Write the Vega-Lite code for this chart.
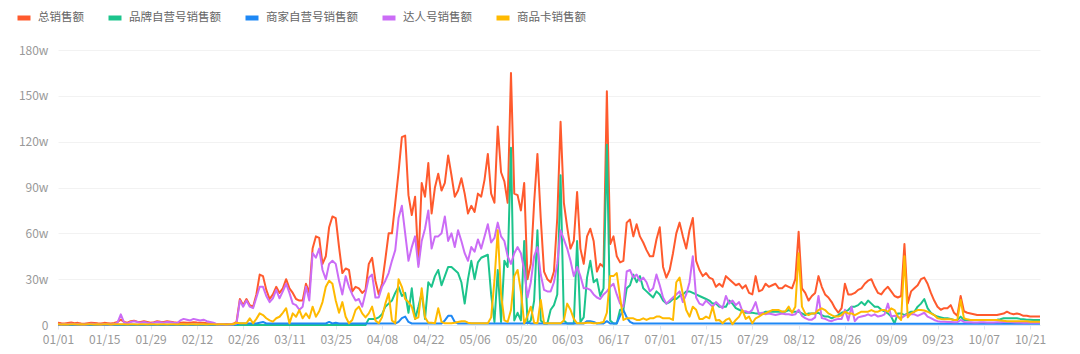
{
"$schema": "https://vega.github.io/schema/vega-lite/v6.json",
"width": 982,
"height": 275,
"autosize": {"type": "none"},
"padding": {"left": 58, "top": 50, "right": 40, "bottom": 29},
"background": "white",
"config": {"font": "Noto Sans CJK SC", "view": {"stroke": null}},
"data": {"values": [
{"d":"2024-01-01","a":1.5,"b":0,"c":0.2,"e":0.5,"f":0.5},
{"d":"2024-01-02","a":1.2,"b":0,"c":0.2,"e":0.4,"f":0.4},
{"d":"2024-01-03","a":1.0,"b":0,"c":0.2,"e":0.6,"f":0.5},
{"d":"2024-01-04","a":1.3,"b":0,"c":0.2,"e":0.5,"f":0.4},
{"d":"2024-01-05","a":1.6,"b":0,"c":0.2,"e":0.8,"f":0.5},
{"d":"2024-01-06","a":1.2,"b":0,"c":0.2,"e":0.5,"f":0.5},
{"d":"2024-01-07","a":1.4,"b":0,"c":0.2,"e":0.6,"f":0.4},
{"d":"2024-01-08","a":1.0,"b":0,"c":0.2,"e":0.4,"f":0.5},
{"d":"2024-01-09","a":0.8,"b":0,"c":0.2,"e":0.3,"f":0.4},
{"d":"2024-01-10","a":1.2,"b":0,"c":0.2,"e":0.5,"f":0.5},
{"d":"2024-01-11","a":1.5,"b":0,"c":0.2,"e":0.8,"f":0.5},
{"d":"2024-01-12","a":1.3,"b":0,"c":0.2,"e":0.6,"f":0.4},
{"d":"2024-01-13","a":1.1,"b":0,"c":0.2,"e":0.5,"f":0.5},
{"d":"2024-01-14","a":1.0,"b":0,"c":0.2,"e":0.4,"f":0.4},
{"d":"2024-01-15","a":1.4,"b":0,"c":0.2,"e":0.6,"f":0.5},
{"d":"2024-01-16","a":1.2,"b":0,"c":0.2,"e":0.5,"f":0.5},
{"d":"2024-01-17","a":1.0,"b":0,"c":0.2,"e":0.4,"f":0.4},
{"d":"2024-01-18","a":1.3,"b":0,"c":0.2,"e":0.6,"f":0.5},
{"d":"2024-01-19","a":2.0,"b":0,"c":0.2,"e":1.5,"f":0.5},
{"d":"2024-01-20","a":3.5,"b":0,"c":0.2,"e":7.0,"f":0.5},
{"d":"2024-01-21","a":2.0,"b":0,"c":0.2,"e":1.5,"f":0.5},
{"d":"2024-01-22","a":1.5,"b":0,"c":0.2,"e":1.0,"f":0.4},
{"d":"2024-01-23","a":2.5,"b":0,"c":0.2,"e":2.0,"f":0.5},
{"d":"2024-01-24","a":2.8,"b":0,"c":0.2,"e":2.5,"f":0.5},
{"d":"2024-01-25","a":2.2,"b":0,"c":0.2,"e":2.0,"f":0.4},
{"d":"2024-01-26","a":2.0,"b":0,"c":0.2,"e":1.5,"f":0.5},
{"d":"2024-01-27","a":2.5,"b":0,"c":0.2,"e":2.0,"f":0.5},
{"d":"2024-01-28","a":2.0,"b":0,"c":0.2,"e":1.5,"f":0.4},
{"d":"2024-01-29","a":1.5,"b":0,"c":0.2,"e":1.0,"f":0.5},
{"d":"2024-01-30","a":1.8,"b":0,"c":0.2,"e":1.5,"f":0.5},
{"d":"2024-01-31","a":2.5,"b":0,"c":0.2,"e":2.0,"f":0.4},
{"d":"2024-02-01","a":2.2,"b":0,"c":0.2,"e":1.8,"f":0.5},
{"d":"2024-02-02","a":2.0,"b":0,"c":0.2,"e":1.5,"f":0.5},
{"d":"2024-02-03","a":2.5,"b":0,"c":0.2,"e":2.0,"f":0.4},
{"d":"2024-02-04","a":2.2,"b":0,"c":0.2,"e":1.8,"f":0.5},
{"d":"2024-02-05","a":1.8,"b":0,"c":0.2,"e":1.5,"f":0.5},
{"d":"2024-02-06","a":1.5,"b":0,"c":0.2,"e":1.2,"f":0.4},
{"d":"2024-02-07","a":1.5,"b":0,"c":0.2,"e":3.0,"f":0.5},
{"d":"2024-02-08","a":1.6,"b":0,"c":0.2,"e":4.0,"f":0.5},
{"d":"2024-02-09","a":1.4,"b":0,"c":0.2,"e":3.5,"f":0.4},
{"d":"2024-02-10","a":1.5,"b":0,"c":0.2,"e":3.0,"f":0.5},
{"d":"2024-02-11","a":1.8,"b":0,"c":0.2,"e":4.0,"f":0.5},
{"d":"2024-02-12","a":1.6,"b":0,"c":0.2,"e":3.5,"f":0.4},
{"d":"2024-02-13","a":1.5,"b":0,"c":0.2,"e":3.0,"f":0.5},
{"d":"2024-02-14","a":1.4,"b":0,"c":0.2,"e":3.5,"f":0.5},
{"d":"2024-02-15","a":1.2,"b":0,"c":0.2,"e":2.5,"f":0.4},
{"d":"2024-02-16","a":1.0,"b":0,"c":0.2,"e":2.0,"f":0.5},
{"d":"2024-02-17","a":0.8,"b":0,"c":0.2,"e":1.5,"f":0.5},
{"d":"2024-02-18","a":0.6,"b":0,"c":0.2,"e":0.5,"f":0.4},
{"d":"2024-02-19","a":0.5,"b":0,"c":0.2,"e":0.3,"f":0.5},
{"d":"2024-02-20","a":0.5,"b":0,"c":0.2,"e":0.3,"f":0.5},
{"d":"2024-02-21","a":0.6,"b":0,"c":0.2,"e":0.4,"f":0.4},
{"d":"2024-02-22","a":0.5,"b":0,"c":0.2,"e":0.3,"f":0.5},
{"d":"2024-02-23","a":0.8,"b":0,"c":0.2,"e":0.5,"f":0.5},
{"d":"2024-02-24","a":2.0,"b":0,"c":0.5,"e":1.0,"f":1.5},
{"d":"2024-02-25","a":17,"b":0,"c":1,"e":16,"f":1.1},
{"d":"2024-02-26","a":13,"b":0,"c":1,"e":12,"f":1.1},
{"d":"2024-02-27","a":17,"b":0,"c":1,"e":16,"f":1.1},
{"d":"2024-02-28","a":13,"b":0,"c":1,"e":12,"f":4.4},
{"d":"2024-02-29","a":12,"b":0,"c":1,"e":11,"f":1.1},
{"d":"2024-03-01","a":20,"b":0,"c":1,"e":18,"f":4},
{"d":"2024-03-02","a":33,"b":0,"c":1.5,"e":25,"f":7.6},
{"d":"2024-03-03","a":32,"b":0,"c":2,"e":25,"f":6.5},
{"d":"2024-03-04","a":23,"b":0,"c":1,"e":19,"f":4.4},
{"d":"2024-03-05","a":17,"b":0,"c":1,"e":15,"f":3},
{"d":"2024-03-06","a":20,"b":0,"c":1,"e":17.5,"f":2.2},
{"d":"2024-03-07","a":25,"b":0,"c":1,"e":23,"f":4.4},
{"d":"2024-03-08","a":21,"b":0,"c":1,"e":17.5,"f":5.4},
{"d":"2024-03-09","a":24,"b":0,"c":1,"e":22,"f":8},
{"d":"2024-03-10","a":30,"b":0,"c":1,"e":27,"f":11},
{"d":"2024-03-11","a":24,"b":0,"c":1,"e":21,"f":1.1},
{"d":"2024-03-12","a":21,"b":0,"c":1,"e":14,"f":7.6},
{"d":"2024-03-13","a":17,"b":0,"c":1,"e":13,"f":5.4},
{"d":"2024-03-14","a":16,"b":0,"c":1,"e":10,"f":9.8},
{"d":"2024-03-15","a":16,"b":0,"c":1,"e":12,"f":4.4},
{"d":"2024-03-16","a":27,"b":0,"c":1,"e":25,"f":7.6},
{"d":"2024-03-17","a":21,"b":0,"c":1,"e":16,"f":4.4},
{"d":"2024-03-18","a":50,"b":0,"c":1,"e":47,"f":12},
{"d":"2024-03-19","a":58,"b":0,"c":1,"e":44,"f":5.4},
{"d":"2024-03-20","a":57,"b":0,"c":1,"e":50,"f":9},
{"d":"2024-03-21","a":40,"b":0,"c":1,"e":36,"f":15},
{"d":"2024-03-22","a":45,"b":0,"c":1,"e":30,"f":25},
{"d":"2024-03-23","a":64,"b":0,"c":2,"e":40,"f":29},
{"d":"2024-03-24","a":71,"b":0,"c":1,"e":42,"f":27},
{"d":"2024-03-25","a":70,"b":0,"c":1.5,"e":40,"f":16},
{"d":"2024-03-26","a":51,"b":0,"c":1,"e":29,"f":8},
{"d":"2024-03-27","a":34,"b":0,"c":1,"e":20,"f":15},
{"d":"2024-03-28","a":37,"b":0,"c":1,"e":32,"f":5.4},
{"d":"2024-03-29","a":36,"b":0,"c":1,"e":25,"f":1.1},
{"d":"2024-03-30","a":22,"b":0,"c":1,"e":20,"f":3.3},
{"d":"2024-03-31","a":25,"b":0,"c":1,"e":16,"f":9.8},
{"d":"2024-04-01","a":24,"b":0,"c":1,"e":17,"f":12},
{"d":"2024-04-02","a":21,"b":0,"c":1,"e":12,"f":7.6},
{"d":"2024-04-03","a":23,"b":0,"c":1,"e":21,"f":5},
{"d":"2024-04-04","a":40,"b":4,"c":1,"e":31,"f":7.6},
{"d":"2024-04-05","a":44,"b":4,"c":1,"e":33,"f":12},
{"d":"2024-04-06","a":29,"b":4,"c":1,"e":18,"f":3},
{"d":"2024-04-07","a":20,"b":5,"c":1,"e":18,"f":1.1},
{"d":"2024-04-08","a":27,"b":7,"c":1,"e":25,"f":5},
{"d":"2024-04-09","a":43,"b":12,"c":1,"e":29,"f":14},
{"d":"2024-04-10","a":60,"b":14,"c":1,"e":34,"f":20.7},
{"d":"2024-04-11","a":60,"b":16,"c":1,"e":42,"f":3},
{"d":"2024-04-12","a":80,"b":21,"c":1,"e":49,"f":1.1},
{"d":"2024-04-13","a":100,"b":25,"c":2,"e":70,"f":30},
{"d":"2024-04-14","a":123,"b":19,"c":4.5,"e":78,"f":25},
{"d":"2024-04-15","a":124,"b":21,"c":5.5,"e":60,"f":17},
{"d":"2024-04-16","a":85,"b":8,"c":2,"e":42,"f":15},
{"d":"2024-04-17","a":72,"b":24,"c":1,"e":51,"f":12},
{"d":"2024-04-18","a":84,"b":4,"c":1,"e":58,"f":4},
{"d":"2024-04-19","a":40,"b":12,"c":1,"e":38,"f":5},
{"d":"2024-04-20","a":93,"b":21,"c":1,"e":55,"f":24},
{"d":"2024-04-21","a":84,"b":4,"c":1,"e":63,"f":5},
{"d":"2024-04-22","a":106,"b":28,"c":1,"e":75,"f":1.5},
{"d":"2024-04-23","a":73,"b":25,"c":1,"e":50,"f":1.5},
{"d":"2024-04-24","a":90,"b":32,"c":1,"e":58,"f":1.1},
{"d":"2024-04-25","a":99,"b":36,"c":1,"e":58,"f":11},
{"d":"2024-04-26","a":88,"b":26,"c":1,"e":60,"f":2},
{"d":"2024-04-27","a":93,"b":32,"c":3,"e":71,"f":1.1},
{"d":"2024-04-28","a":111,"b":38,"c":6,"e":55,"f":1.1},
{"d":"2024-04-29","a":98,"b":38,"c":6,"e":60,"f":1.1},
{"d":"2024-04-30","a":84,"b":36,"c":2,"e":51,"f":1.5},
{"d":"2024-05-01","a":88,"b":34,"c":1,"e":62,"f":2},
{"d":"2024-05-02","a":96,"b":28,"c":1,"e":55,"f":2.5},
{"d":"2024-05-03","a":86,"b":14,"c":1,"e":47,"f":2.5},
{"d":"2024-05-04","a":73,"b":30,"c":1,"e":42,"f":1.5},
{"d":"2024-05-05","a":78,"b":42,"c":1,"e":51,"f":1.1},
{"d":"2024-05-06","a":74,"b":30,"c":1,"e":48,"f":1.1},
{"d":"2024-05-07","a":86,"b":41,"c":1,"e":56,"f":1.1},
{"d":"2024-05-08","a":84,"b":44,"c":1,"e":50,"f":1.1},
{"d":"2024-05-09","a":95,"b":45,"c":1,"e":58,"f":1.1},
{"d":"2024-05-10","a":112,"b":46,"c":1,"e":66,"f":1.1},
{"d":"2024-05-11","a":86,"b":20,"c":1,"e":54,"f":5},
{"d":"2024-05-12","a":80,"b":2,"c":1,"e":57,"f":29},
{"d":"2024-05-13","a":130,"b":36,"c":1,"e":67,"f":62},
{"d":"2024-05-14","a":100,"b":2,"c":1,"e":58,"f":20},
{"d":"2024-05-15","a":94,"b":42,"c":1,"e":55,"f":3},
{"d":"2024-05-16","a":80,"b":38,"c":1,"e":45,"f":2},
{"d":"2024-05-17","a":165,"b":116,"c":1,"e":40,"f":9.8},
{"d":"2024-05-18","a":86,"b":3,"c":1,"e":47,"f":32},
{"d":"2024-05-19","a":85,"b":8,"c":1,"e":51,"f":36},
{"d":"2024-05-20","a":75,"b":3,"c":1,"e":47,"f":22},
{"d":"2024-05-21","a":93,"b":55,"c":1,"e":36,"f":1.1},
{"d":"2024-05-22","a":30,"b":1,"c":1.5,"e":18,"f":6},
{"d":"2024-05-23","a":40,"b":3,"c":1,"e":28,"f":12},
{"d":"2024-05-24","a":80,"b":16,"c":1,"e":45,"f":1.5},
{"d":"2024-05-25","a":112,"b":62,"c":1,"e":51,"f":1.1},
{"d":"2024-05-26","a":70,"b":3,"c":1,"e":33,"f":16.4},
{"d":"2024-05-27","a":35,"b":1,"c":1,"e":23,"f":1.1},
{"d":"2024-05-28","a":30,"b":1,"c":1,"e":22,"f":1.1},
{"d":"2024-05-29","a":28,"b":10,"c":1,"e":22,"f":1.1},
{"d":"2024-05-30","a":35,"b":13,"c":1,"e":28,"f":1.1},
{"d":"2024-05-31","a":70,"b":20,"c":1,"e":40,"f":1.1},
{"d":"2024-06-01","a":133,"b":98,"c":1,"e":62,"f":1.1},
{"d":"2024-06-02","a":80,"b":3,"c":1,"e":56,"f":3},
{"d":"2024-06-03","a":64,"b":1,"c":1,"e":50,"f":14},
{"d":"2024-06-04","a":50,"b":1,"c":1,"e":42,"f":10},
{"d":"2024-06-05","a":55,"b":1,"c":1,"e":32,"f":4},
{"d":"2024-06-06","a":87,"b":55,"c":1,"e":38,"f":1.1},
{"d":"2024-06-07","a":50,"b":2,"c":1,"e":32,"f":1.1},
{"d":"2024-06-08","a":40,"b":5,"c":1,"e":24,"f":1.1},
{"d":"2024-06-09","a":58,"b":31,"c":2.5,"e":24,"f":1.5},
{"d":"2024-06-10","a":63,"b":42,"c":2.5,"e":23,"f":1.5},
{"d":"2024-06-11","a":55,"b":28,"c":2,"e":20,"f":1.1},
{"d":"2024-06-12","a":35,"b":30,"c":1,"e":18,"f":1.1},
{"d":"2024-06-13","a":40,"b":19,"c":1,"e":17,"f":1.5},
{"d":"2024-06-14","a":38,"b":24,"c":1,"e":20,"f":2},
{"d":"2024-06-15","a":153,"b":118,"c":2.5,"e":22,"f":8},
{"d":"2024-06-16","a":53,"b":3,"c":1,"e":25,"f":32},
{"d":"2024-06-17","a":58,"b":1,"c":1,"e":27,"f":32},
{"d":"2024-06-18","a":45,"b":1,"c":1,"e":20,"f":34},
{"d":"2024-06-19","a":41,"b":10,"c":6,"e":14,"f":18},
{"d":"2024-06-20","a":42,"b":10,"c":9.8,"e":12,"f":3.3},
{"d":"2024-06-21","a":67,"b":24,"c":5,"e":35,"f":4.4},
{"d":"2024-06-22","a":69,"b":26,"c":2,"e":36,"f":4.4},
{"d":"2024-06-23","a":58,"b":33,"c":1,"e":31,"f":4.4},
{"d":"2024-06-24","a":66,"b":28,"c":1,"e":33,"f":3.3},
{"d":"2024-06-25","a":58,"b":32,"c":1,"e":29,"f":3.3},
{"d":"2024-06-26","a":54,"b":24,"c":1,"e":31,"f":4.4},
{"d":"2024-06-27","a":49,"b":22,"c":1,"e":28,"f":3.3},
{"d":"2024-06-28","a":45,"b":20,"c":1,"e":22,"f":4.4},
{"d":"2024-06-29","a":45,"b":18,"c":1,"e":24,"f":4.4},
{"d":"2024-06-30","a":56,"b":22,"c":1,"e":33,"f":5.5},
{"d":"2024-07-01","a":64,"b":20,"c":1,"e":26,"f":5.5},
{"d":"2024-07-02","a":38,"b":16,"c":1,"e":18,"f":4.4},
{"d":"2024-07-03","a":31,"b":14,"c":1,"e":14,"f":4.4},
{"d":"2024-07-04","a":36,"b":15,"c":1,"e":16,"f":4.4},
{"d":"2024-07-05","a":47,"b":17,"c":1,"e":18,"f":3.3},
{"d":"2024-07-06","a":60,"b":17,"c":1,"e":20,"f":28},
{"d":"2024-07-07","a":67,"b":19,"c":1,"e":22,"f":31},
{"d":"2024-07-08","a":58,"b":20,"c":1,"e":15,"f":20},
{"d":"2024-07-09","a":50,"b":22,"c":1,"e":20,"f":9.8},
{"d":"2024-07-10","a":62,"b":22,"c":1,"e":28,"f":5.5},
{"d":"2024-07-11","a":70,"b":21,"c":1,"e":45,"f":12},
{"d":"2024-07-12","a":42,"b":20,"c":1,"e":18,"f":10},
{"d":"2024-07-13","a":36,"b":19,"c":1,"e":14,"f":4},
{"d":"2024-07-14","a":32,"b":18,"c":1,"e":13,"f":4},
{"d":"2024-07-15","a":34,"b":17,"c":1,"e":16,"f":5.5},
{"d":"2024-07-16","a":31,"b":16,"c":1,"e":14,"f":4.4},
{"d":"2024-07-17","a":30,"b":14,"c":1,"e":12,"f":12},
{"d":"2024-07-18","a":25,"b":14,"c":1,"e":15,"f":3},
{"d":"2024-07-19","a":27,"b":12,"c":1,"e":13,"f":3.3},
{"d":"2024-07-20","a":25,"b":12,"c":1,"e":11,"f":1.1},
{"d":"2024-07-21","a":32,"b":12,"c":1,"e":19,"f":3.3},
{"d":"2024-07-22","a":30,"b":16,"c":1,"e":14,"f":4.4},
{"d":"2024-07-23","a":28,"b":14,"c":1,"e":16,"f":0.5},
{"d":"2024-07-24","a":26,"b":11,"c":1,"e":13,"f":3.3},
{"d":"2024-07-25","a":27,"b":10,"c":1,"e":15,"f":5.5},
{"d":"2024-07-26","a":24,"b":9,"c":1,"e":9,"f":9.8},
{"d":"2024-07-27","a":26,"b":8,"c":1,"e":9,"f":4},
{"d":"2024-07-28","a":21,"b":8,"c":1,"e":8,"f":5.5},
{"d":"2024-07-29","a":20,"b":8,"c":1,"e":10,"f":1.1},
{"d":"2024-07-30","a":32,"b":7.6,"c":1,"e":15,"f":4.4},
{"d":"2024-07-31","a":22,"b":7.6,"c":1,"e":7,"f":5.5},
{"d":"2024-08-01","a":23,"b":7.6,"c":1,"e":8,"f":7},
{"d":"2024-08-02","a":27,"b":8.7,"c":1,"e":7,"f":7.6},
{"d":"2024-08-03","a":25,"b":8.7,"c":1,"e":7.5,"f":8.7},
{"d":"2024-08-04","a":26,"b":8.7,"c":1,"e":7,"f":9.8},
{"d":"2024-08-05","a":27,"b":8.7,"c":1,"e":6.5,"f":9.8},
{"d":"2024-08-06","a":24,"b":8.7,"c":1,"e":7,"f":9.8},
{"d":"2024-08-07","a":24,"b":8.7,"c":1,"e":7.5,"f":8.7},
{"d":"2024-08-08","a":26,"b":8.7,"c":1,"e":7,"f":9},
{"d":"2024-08-09","a":25,"b":9.8,"c":1,"e":7,"f":12},
{"d":"2024-08-10","a":24,"b":8.7,"c":1,"e":6.5,"f":8},
{"d":"2024-08-11","a":30,"b":8.7,"c":1,"e":7,"f":12},
{"d":"2024-08-12","a":61,"b":8.7,"c":1,"e":10,"f":47},
{"d":"2024-08-13","a":24,"b":7.6,"c":1,"e":6,"f":12},
{"d":"2024-08-14","a":21,"b":6.5,"c":1,"e":4.5,"f":7.6},
{"d":"2024-08-15","a":16,"b":7.6,"c":1,"e":3.5,"f":6.5},
{"d":"2024-08-16","a":19,"b":7.6,"c":0.8,"e":3.5,"f":7.6},
{"d":"2024-08-17","a":21,"b":7.6,"c":0.8,"e":5,"f":7.6},
{"d":"2024-08-18","a":32,"b":8,"c":0.8,"e":19,"f":9.8},
{"d":"2024-08-19","a":25,"b":6.5,"c":0.8,"e":4.5,"f":10.9},
{"d":"2024-08-20","a":20,"b":5.5,"c":0.8,"e":4,"f":9.8},
{"d":"2024-08-21","a":18,"b":5.5,"c":0.8,"e":3,"f":7.6},
{"d":"2024-08-22","a":15,"b":4.4,"c":0.8,"e":2.5,"f":6.5},
{"d":"2024-08-23","a":11,"b":5.5,"c":0.8,"e":3.5,"f":5.5},
{"d":"2024-08-24","a":8,"b":6.5,"c":0.8,"e":4,"f":5.5},
{"d":"2024-08-25","a":11,"b":8,"c":0.8,"e":4,"f":6.5},
{"d":"2024-08-26","a":27,"b":8.7,"c":0.8,"e":10,"f":8.7},
{"d":"2024-08-27","a":20,"b":9.8,"c":0.8,"e":3,"f":7.6},
{"d":"2024-08-28","a":20,"b":12,"c":0.8,"e":12,"f":7.6},
{"d":"2024-08-29","a":21,"b":12,"c":0.8,"e":2.5,"f":6.5},
{"d":"2024-08-30","a":23,"b":13,"c":0.8,"e":5,"f":7.6},
{"d":"2024-08-31","a":24,"b":15,"c":0.8,"e":5.5,"f":8.7},
{"d":"2024-09-01","a":27,"b":13,"c":0.8,"e":6,"f":8.7},
{"d":"2024-09-02","a":29,"b":16,"c":0.8,"e":7,"f":8.7},
{"d":"2024-09-03","a":30,"b":14,"c":0.8,"e":6,"f":9.8},
{"d":"2024-09-04","a":25,"b":12,"c":0.8,"e":7,"f":8.7},
{"d":"2024-09-05","a":21,"b":12,"c":0.8,"e":5.5,"f":8.7},
{"d":"2024-09-06","a":20,"b":10,"c":0.8,"e":6,"f":9.8},
{"d":"2024-09-07","a":23,"b":9,"c":0.8,"e":7,"f":9.8},
{"d":"2024-09-08","a":25,"b":7.6,"c":0.8,"e":14,"f":8.7},
{"d":"2024-09-09","a":22,"b":5.5,"c":0.8,"e":5.5,"f":10.9},
{"d":"2024-09-10","a":19,"b":1,"c":0.8,"e":6,"f":9.8},
{"d":"2024-09-11","a":18,"b":7.6,"c":0.8,"e":5.5,"f":5.5},
{"d":"2024-09-12","a":19,"b":7.6,"c":0.8,"e":4.5,"f":3.3},
{"d":"2024-09-13","a":53,"b":6.5,"c":0.8,"e":6,"f":45},
{"d":"2024-09-14","a":14,"b":7.6,"c":0.8,"e":7,"f":5},
{"d":"2024-09-15","a":22,"b":8.7,"c":0.8,"e":7,"f":7.6},
{"d":"2024-09-16","a":24,"b":8.7,"c":0.8,"e":7,"f":8.7},
{"d":"2024-09-17","a":26,"b":12,"c":0.8,"e":6,"f":9.8},
{"d":"2024-09-18","a":30,"b":14,"c":0.8,"e":7,"f":9.8},
{"d":"2024-09-19","a":31,"b":17,"c":0.8,"e":8,"f":9.5},
{"d":"2024-09-20","a":27,"b":11,"c":0.8,"e":5.5,"f":8.7},
{"d":"2024-09-21","a":21,"b":8,"c":0.8,"e":4.5,"f":7.6},
{"d":"2024-09-22","a":16,"b":6.5,"c":0.8,"e":3.3,"f":6.5},
{"d":"2024-09-23","a":12,"b":5.5,"c":0.8,"e":2.5,"f":4.4},
{"d":"2024-09-24","a":10,"b":5,"c":0.8,"e":2.2,"f":4},
{"d":"2024-09-25","a":11,"b":4.4,"c":0.8,"e":2.2,"f":3.7},
{"d":"2024-09-26","a":11,"b":4.4,"c":0.8,"e":2,"f":3.7},
{"d":"2024-09-27","a":13,"b":4,"c":0.8,"e":2,"f":3.7},
{"d":"2024-09-28","a":8,"b":3.3,"c":0.8,"e":1.8,"f":3.3},
{"d":"2024-09-29","a":6,"b":3.3,"c":0.8,"e":1.8,"f":3.3},
{"d":"2024-09-30","a":19,"b":5.5,"c":0.8,"e":3.3,"f":16.4},
{"d":"2024-10-01","a":9,"b":3.3,"c":0.8,"e":2,"f":4.4},
{"d":"2024-10-02","a":8,"b":3.3,"c":0.8,"e":1.8,"f":3.7},
{"d":"2024-10-03","a":7.5,"b":3.3,"c":0.8,"e":1.8,"f":3.3},
{"d":"2024-10-04","a":7,"b":3.3,"c":0.8,"e":1.6,"f":3.3},
{"d":"2024-10-05","a":6.5,"b":3.3,"c":0.8,"e":1.6,"f":3.3},
{"d":"2024-10-06","a":6.5,"b":3.3,"c":0.8,"e":1.8,"f":3.3},
{"d":"2024-10-07","a":6.5,"b":3.3,"c":0.8,"e":1.8,"f":3.3},
{"d":"2024-10-08","a":6.5,"b":3.3,"c":0.8,"e":1.6,"f":3.3},
{"d":"2024-10-09","a":6.5,"b":3.3,"c":0.8,"e":1.6,"f":3.3},
{"d":"2024-10-10","a":6.5,"b":3.3,"c":0.8,"e":1.6,"f":3.3},
{"d":"2024-10-11","a":6.5,"b":3.5,"c":0.8,"e":1.8,"f":3.3},
{"d":"2024-10-12","a":7,"b":3.8,"c":0.8,"e":1.8,"f":3},
{"d":"2024-10-13","a":7.5,"b":4.4,"c":0.8,"e":2,"f":2.8},
{"d":"2024-10-14","a":8.7,"b":4.4,"c":0.8,"e":2.2,"f":2.5},
{"d":"2024-10-15","a":7.6,"b":4.4,"c":0.8,"e":2,"f":2.5},
{"d":"2024-10-16","a":7,"b":4.4,"c":0.8,"e":1.8,"f":2.5},
{"d":"2024-10-17","a":7.5,"b":4.4,"c":0.8,"e":1.6,"f":2.5},
{"d":"2024-10-18","a":7,"b":4,"c":0.8,"e":1.6,"f":2.5},
{"d":"2024-10-19","a":6,"b":3.8,"c":0.8,"e":1.5,"f":2.5},
{"d":"2024-10-20","a":6,"b":3.5,"c":0.8,"e":1.5,"f":2.5},
{"d":"2024-10-21","a":5.5,"b":3.5,"c":0.8,"e":1.4,"f":2.2},
{"d":"2024-10-22","a":5.5,"b":3.3,"c":0.8,"e":1.4,"f":2.2},
{"d":"2024-10-23","a":5.5,"b":3.3,"c":0.8,"e":1.4,"f":2.2},
{"d":"2024-10-24","a":5.5,"b":3.3,"c":0.8,"e":1.4,"f":2.2}
]},
"transform": [{"fold": ["a", "b", "c", "e", "f"], "as": ["k", "v"]}],
"mark": {"type": "line", "strokeWidth": 2, "interpolate": "linear", "strokeJoin": "round"},
"encoding": {
  "x": {
    "field": "d", "type": "temporal", "title": null,
    "scale": {"type": "utc", "nice": false, "domain": [{"year": 2024, "month": 1, "date": 1, "utc": true}, {"year": 2024, "month": 10, "date": 24, "utc": true}]},
    "axis": {
      "format": "%m/%d",
      "values": [
        {"year": 2024, "month": 1, "date": 1, "utc": true},
        {"year": 2024, "month": 1, "date": 15, "utc": true},
        {"year": 2024, "month": 1, "date": 29, "utc": true},
        {"year": 2024, "month": 2, "date": 12, "utc": true},
        {"year": 2024, "month": 2, "date": 26, "utc": true},
        {"year": 2024, "month": 3, "date": 11, "utc": true},
        {"year": 2024, "month": 3, "date": 25, "utc": true},
        {"year": 2024, "month": 4, "date": 8, "utc": true},
        {"year": 2024, "month": 4, "date": 22, "utc": true},
        {"year": 2024, "month": 5, "date": 6, "utc": true},
        {"year": 2024, "month": 5, "date": 20, "utc": true},
        {"year": 2024, "month": 6, "date": 3, "utc": true},
        {"year": 2024, "month": 6, "date": 17, "utc": true},
        {"year": 2024, "month": 7, "date": 1, "utc": true},
        {"year": 2024, "month": 7, "date": 15, "utc": true},
        {"year": 2024, "month": 7, "date": 29, "utc": true},
        {"year": 2024, "month": 8, "date": 12, "utc": true},
        {"year": 2024, "month": 8, "date": 26, "utc": true},
        {"year": 2024, "month": 9, "date": 9, "utc": true},
        {"year": 2024, "month": 9, "date": 23, "utc": true},
        {"year": 2024, "month": 10, "date": 7, "utc": true},
        {"year": 2024, "month": 10, "date": 21, "utc": true}
      ],
      "grid": false,
      "domainColor": "#E0E6F1",
      "tickColor": "#E0E6F1",
      "tickSize": 4,
      "labelColor": "#999999",
      "labelFontSize": 12,
      "labelPadding": 5,
      "labelOverlap": false,
      "labelFlush": false
    }
  },
  "y": {
    "field": "v", "type": "quantitative", "title": null,
    "scale": {"domain": [0, 180], "nice": false},
    "axis": {
      "values": [0, 30, 60, 90, 120, 150, 180],
      "labelExpr": "datum.value == 0 ? '0' : datum.value + 'w'",
      "domain": false,
      "ticks": false,
      "gridColor": "#F2F2F2",
      "labelColor": "#999999",
      "labelFontSize": 12,
      "labelPadding": 10
    }
  },
  "color": {
    "field": "k", "type": "nominal",
    "scale": {"domain": ["a", "b", "c", "e", "f"], "range": ["#FF5A2D", "#1CC48C", "#1E88F5", "#CB6CF6", "#FFBA00"]},
    "legend": {
      "title": null,
      "orient": "none",
      "legendX": -43,
      "legendY": -41,
      "direction": "horizontal",
      "symbolType": "stroke",
      "symbolStrokeWidth": 5,
      "symbolSize": 169,
      "labelFontSize": 11.5,
      "labelColor": "#666666",
      "labelOffset": 5,
      "columnPadding": 14,
      "labelExpr": "datum.label == 'a' ? '总销售额' : datum.label == 'b' ? '品牌自营号销售额' : datum.label == 'c' ? '商家自营号销售额' : datum.label == 'e' ? '达人号销售额' : '商品卡销售额'"
    }
  }
}
}
